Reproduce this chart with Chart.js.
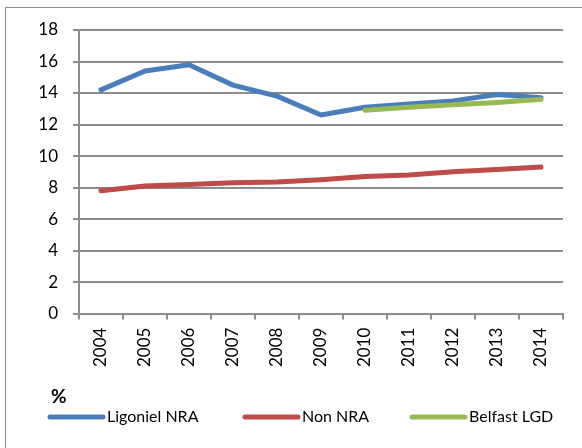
<!DOCTYPE html>
<html>
<head>
<meta charset="utf-8">
<script src="https://cdn.jsdelivr.net/npm/chart.js@4"></script>
<style>
  body { margin: 0; background: #fff; }
  #wrap { position: relative; width: 582px; height: 448px; }
  #frame { position: absolute; left: 5px; top: 7px; width: 600px; height: 460px; border: 1.5px solid #8c8c8c; box-sizing: border-box; }
  #pct { position: absolute; left: 51px; top: 384px; font: bold 19px Lato, sans-serif; color: #000; }
</style>
</head>
<body>
<div id="wrap">
  <div id="frame"></div>
  <canvas id="chart"></canvas>
  <div id="pct">%</div>
</div>
<script>
// categories and values
const years = ["2004", "2005", "2006", "2007", "2008", "2009", "2010", "2011", "2012", "2013", "2014"];
const ligoniel = [14.2, 15.4, 15.8, 14.5, 13.8, 12.6, 13.1, 13.3, 13.5, 13.9, 13.7];
const nonNra = [7.8, 8.1, 8.2, 8.3, 8.35, 8.5, 8.7, 8.8, 9.0, 9.15, 9.3];
const belfast = [null, null, null, null, null, null, 12.9, 13.1, 13.25, 13.4, 13.6];
const yTicks = [0, 2, 4, 6, 8, 10, 12, 14, 16, 18];

const gridGrey = "#8c8c8c";
const font = "Lato, sans-serif";

function line(label, data, color, order) {
  return {
    label: label,
    data: data,
    borderColor: color,
    backgroundColor: color,
    borderWidth: 5,
    borderCapStyle: "round",
    borderJoinStyle: "round",
    pointRadius: 0,
    tension: 0,
    order: order
  };
}

// legend in one row under the chart, like the excel one
const legendRow = {
  id: "legendRow",
  afterDraw(chart) {
    const ctx = chart.ctx;
    const starts = [50, 245, 412];
    const y = 417;
    ctx.save();
    ctx.font = "16px " + font;
    ctx.textBaseline = "middle";
    chart.data.datasets.forEach((ds, i) => {
      const x = starts[i];
      ctx.strokeStyle = ds.borderColor;
      ctx.lineWidth = 5;
      ctx.lineCap = "round";
      ctx.beginPath();
      ctx.moveTo(x, y);
      ctx.lineTo(x + 53, y);
      ctx.stroke();
      ctx.fillStyle = "#000";
      ctx.fillText(ds.label, x + 57, y);
    });
    ctx.restore();
  }
};

new Chart(document.getElementById("chart"), {
  type: "line",
  data: {
    labels: years,
    datasets: [
      line("Ligoniel NRA", ligoniel, "#4a7ebb", 3),
      line("Non NRA", nonNra, "#be4b48", 2),
      line("Belfast LGD", belfast, "#98b954", 1)
    ]
  },
  options: {
    responsive: true,
    maintainAspectRatio: false,
    animation: false,
    layout: { padding: { left: 40, right: 19, top: 30, bottom: 73 } },
    scales: {
      x: {
        offset: true,
        grid: { offset: true, drawOnChartArea: false, drawTicks: true, tickLength: 6, color: gridGrey, lineWidth: 2 },
        border: { display: true, color: gridGrey, width: 2 },
        ticks: { minRotation: 90, maxRotation: 90, padding: 8, color: "#000", font: { family: font, size: 17 } }
      },
      y: {
        min: 0,
        max: 18,
        afterFit: (scale) => { scale.width = 39; },
        afterBuildTicks: (scale) => { scale.ticks = yTicks.map(v => ({ value: v })); },
        grid: { color: gridGrey, lineWidth: 2, tickLength: 6 },
        border: { display: true, color: gridGrey, width: 2 },
        ticks: { padding: 15, color: "#000", font: { family: font, size: 17 } }
      }
    },
    plugins: {
      tooltip: { enabled: false },
      legend: { display: false }
    }
  },
  plugins: [legendRow]
});
</script>
</body>
</html>
